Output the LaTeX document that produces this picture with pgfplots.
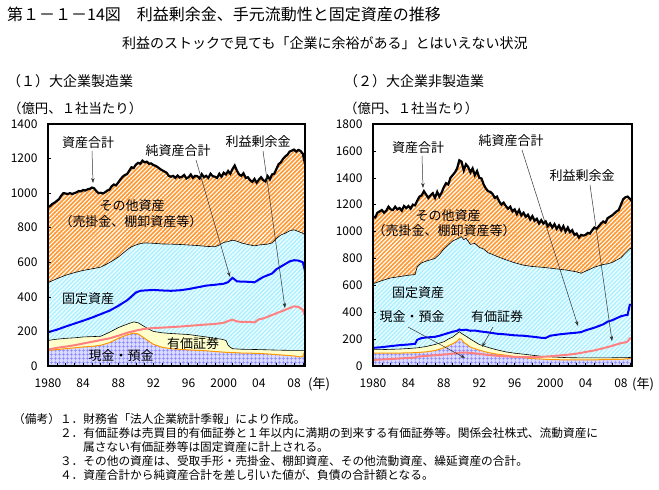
\documentclass[border=0pt]{standalone}
\usepackage{fontspec}
\setmainfont{Noto Sans CJK JP}
\usepackage{pgfplots}
\pgfplotsset{compat=1.18}
\usepackage{pgfplotstable}
\usetikzlibrary{patterns,patterns.meta,arrows.meta}

\definecolor{orng}{RGB}{255,153,51}
\definecolor{cyanline}{RGB}{170,240,255}
\definecolor{cyanfill}{RGB}{236,252,255}
\definecolor{yel}{RGB}{255,255,204}
\definecolor{purfill}{RGB}{218,218,255}
\definecolor{purline}{RGB}{130,130,255}
\definecolor{netblue}{RGB}{0,0,255}
\definecolor{pinkl}{RGB}{255,128,128}
\definecolor{cashline}{RGB}{255,153,0}

\pgfplotsset{
 chartbase/.style={
  scale only axis, anchor=south west,
  xmin=1980, xmax=2009.25, ymin=0,
  axis on top,
  axis line style={line width=1.2pt},
  tick pos=left, tick align=inside,
  major tick length=3pt, minor tick length=3pt,
  xtick={1980,1984,...,2008},
  xticklabels={1980,84,88,92,96,2000,04,08},
  minor xtick={1981,1982,...,2009},
  tick style={black, line width=0.5pt},
  /pgf/number format/assume math mode=true,
  /pgf/number format/1000 sep={},
  ticklabel style={font=\fontsize{12}{12}\selectfont},
  xticklabel style={yshift=-9pt},
  yticklabel style={xshift=-7pt},
 },
 otherarea/.style={draw=none, fill=orng, postaction={pattern={Lines[angle=45,distance=3pt,line width=1.1pt]}, pattern color=white}},
 fixedarea/.style={draw=none, fill=cyanfill, postaction={pattern={Lines[angle=45,distance=3pt,line width=1.3pt]}, pattern color=cyanline}},
 secarea/.style={draw=none, fill=yel},
 casharea/.style={draw=none, fill=purfill, postaction={pattern={Hatch[angle=0,distance=4pt,line width=0.7pt]}, pattern color=purline}},
 thinblack/.style={black, line width=0.6pt, no marks},
 cashl/.style={cashline, line width=1pt, no marks},
 netl/.style={netblue, line width=2pt, no marks},
 retl/.style={pinkl, line width=2pt, no marks},
 totl/.style={black, line width=2.2pt, no marks},
}

% ---------- Left: large manufacturing ----------
\pgfplotstableread{
x y
1980 920
1980.25 925
1980.5 938
1980.75 945
1981 955
1981.25 965
1981.5 985
1981.75 1000
1982 998
1982.25 995
1982.5 1000
1982.75 995
1983 1000
1983.25 1005
1983.5 1012
1983.75 1010
1984 1018
1984.25 1015
1984.5 1022
1984.75 1025
1985 1032
1985.25 1028
1985.5 1012
1985.75 1000
1986 1002
1986.25 998
1986.5 1005
1986.75 1015
1987 1020
1987.25 1040
1987.5 1050
1987.75 1045
1988 1062
1988.25 1080
1988.5 1095
1988.75 1105
1989 1110
1989.25 1130
1989.5 1150
1989.75 1145
1990 1165
1990.25 1175
1990.5 1170
1990.75 1188
1991 1178
1991.25 1182
1991.5 1170
1991.75 1172
1992 1162
1992.25 1158
1992.5 1150
1992.75 1140
1993 1132
1993.25 1125
1993.5 1118
1993.75 1100
1994 1095
1994.25 1100
1994.5 1088
1994.75 1102
1995 1090
1995.25 1095
1995.5 1105
1995.75 1085
1996 1092
1996.25 1108
1996.5 1088
1996.75 1100
1997 1098
1997.25 1085
1997.5 1110
1997.75 1092
1998 1100
1998.25 1088
1998.5 1112
1998.75 1098
1999 1095
1999.25 1088
1999.5 1112
1999.75 1095
2000 1118
2000.25 1108
2000.5 1128
2000.75 1112
2001 1140
2001.25 1160
2001.5 1130
2001.75 1108
2002 1100
2002.25 1115
2002.5 1088
2002.75 1092
2003 1075
2003.25 1065
2003.5 1082
2003.75 1060
2004 1078
2004.25 1092
2004.5 1075
2004.75 1068
2005 1098
2005.25 1080
2005.5 1108
2005.75 1112
2006 1140
2006.25 1168
2006.5 1178
2006.75 1198
2007 1212
2007.25 1222
2007.5 1240
2007.75 1246
2008 1252
2008.25 1240
2008.5 1250
2008.75 1244
2009 1228
2009.25 1170
}\LT
\pgfplotstableread{
x y
1980 482
1981 505
1982 525
1983 540
1984 553
1985 562
1986 572
1987 598
1988 630
1989 672
1989.5 690
1990 700
1990.5 708
1991 712
1992 710
1993 706
1994 705
1995 703
1996 700
1997 697
1998 692
1999 690
1999.5 700
2000 715
2000.5 720
2001 728
2001.5 722
2002 712
2003 700
2003.5 695
2004 700
2005 705
2005.5 712
2006 738
2006.5 758
2007 768
2007.5 782
2008 788
2008.5 778
2009 768
2009.25 758
}\LF
\pgfplotstableread{
x y
1980 148
1981 155
1982 160
1983 163
1984 168
1985 170
1986 172
1987 195
1988 222
1989 242
1989.75 255
1990.25 250
1990.75 235
1991.5 212
1992 200
1993 192
1994 188
1995 185
1996 182
1997 175
1998 168
1999 160
1999.75 155
2000.25 148
2000.5 120
2000.75 108
2001 100
2002 97
2004 95
2006 92
2008 90
2009.25 90
}\LS
\pgfplotstableread{
x y
1980 90
1981 95
1982 100
1983 105
1984 110
1985 113
1986 120
1987 135
1988 160
1989 180
1989.75 190
1990.25 186
1991 160
1992 125
1993 108
1994 100
1996 93
1998 88
2000 80
2002 75
2004 73
2006 66
2008 58
2008.75 52
2009 55
2009.25 90
}\LC
\pgfplotstableread{
x y
1980 195
1981 210
1982 228
1983 245
1984 262
1985 280
1986 300
1987 320
1988 348
1989 380
1989.5 402
1990 425
1990.5 435
1991 437
1992 440
1993 437
1994 435
1995 438
1996 445
1997 455
1998 465
1999 470
2000 476
2000.5 485
2001 510
2001.25 500
2001.5 490
2002 488
2003 487
2003.5 484
2004 500
2004.5 515
2005 525
2005.5 535
2006 560
2006.5 575
2007 590
2007.5 605
2008 612
2008.5 610
2009 600
2009.25 550
}\LN
\pgfplotstableread{
x y
1980 95
1981 105
1982 112
1983 120
1984 130
1985 140
1986 150
1987 160
1988 175
1989 192
1990 205
1991 215
1992 220
1993 222
1994 225
1995 228
1996 232
1997 236
1998 240
1999 243
2000 250
2000.5 260
2001 268
2001.5 258
2002 255
2003 255
2003.5 252
2004 270
2004.5 275
2005 285
2005.5 295
2006 305
2006.5 315
2007 325
2007.5 335
2008 345
2008.5 342
2009 325
2009.25 290
}\LR

% ---------- Right: large non-manufacturing ----------
\pgfplotstableread{
x y
1980 1110
1980.25 1105
1980.5 1140
1980.75 1150
1981 1160
1981.25 1140
1981.5 1155
1981.75 1185
1982 1165
1982.25 1160
1982.5 1185
1982.75 1165
1983 1175
1983.25 1155
1983.5 1190
1983.75 1175
1984 1190
1984.25 1170
1984.5 1200
1984.75 1195
1985 1230
1985.25 1260
1985.5 1270
1985.75 1300
1986 1275
1986.25 1250
1986.5 1270
1986.75 1285
1987 1250
1987.25 1295
1987.5 1260
1987.75 1290
1988 1330
1988.25 1360
1988.5 1350
1988.75 1400
1989 1420
1989.25 1440
1989.5 1470
1989.75 1530
1990 1520
1990.25 1455
1990.5 1500
1990.75 1480
1991 1440
1991.25 1470
1991.5 1420
1991.75 1450
1992 1400
1992.25 1395
1992.5 1350
1992.75 1320
1993 1300
1993.25 1295
1993.5 1280
1993.75 1250
1994 1260
1994.25 1225
1994.5 1200
1994.75 1215
1995 1190
1995.25 1170
1995.5 1185
1995.75 1150
1996 1165
1996.25 1130
1996.5 1160
1996.75 1120
1997 1140
1997.25 1110
1997.5 1125
1997.75 1090
1998 1115
1998.25 1080
1998.5 1095
1998.75 1060
1999 1085
1999.25 1060
1999.5 1075
1999.75 1040
2000 1060
2000.25 1030
2000.5 1055
2000.75 1020
2001 1045
2001.25 1010
2001.5 1040
2001.75 1000
2002 1030
2002.25 995
2002.5 1010
2002.75 975
2003 985
2003.25 955
2003.5 975
2003.75 970
2004 975
2004.25 990
2004.5 985
2004.75 1010
2005 1030
2005.25 1020
2005.5 1040
2005.75 1060
2006 1075
2006.25 1065
2006.5 1100
2006.75 1110
2007 1120
2007.25 1135
2007.5 1150
2007.75 1160
2008 1200
2008.25 1240
2008.5 1255
2008.75 1260
2009 1245
2009.25 1225
}\RT
\pgfplotstableread{
x y
1980 612
1981 635
1982 655
1983 665
1984 675
1984.75 680
1985 740
1985.5 768
1986 780
1986.5 790
1987 800
1987.5 830
1988 870
1988.5 900
1989 930
1989.5 945
1990 962
1990.25 940
1990.5 950
1991 905
1991.5 912
1992 882
1992.5 870
1993 842
1993.5 830
1994 815
1995 790
1996 768
1997 750
1998 740
1999 735
2000 728
2001 720
2002 712
2003 700
2003.5 690
2004 705
2005 735
2006 755
2006.5 760
2007 770
2008 805
2008.5 840
2009 872
2009.25 880
}\RF
\pgfplotstableread{
x y
1980 122
1981 122
1982 124
1983 126
1984 130
1985 135
1986 145
1987 160
1988 180
1988.5 200
1989 215
1989.5 242
1989.75 255
1990 242
1990.5 222
1991 200
1991.5 180
1992 160
1993 138
1994 120
1995 105
1996 95
1997 88
1998 80
1999 72
2000 68
2001 65
2002 62
2004 60
2006 60
2008 62
2009 63
2009.25 65
}\RS
\pgfplotstableread{
x y
1980 96
1982 96
1984 97
1985 100
1986 105
1987 115
1988 135
1988.5 150
1989 165
1989.5 185
1989.75 203
1990 198
1990.25 175
1990.5 165
1991 140
1992 118
1993 100
1994 88
1995 80
1996 70
1997 62
1998 55
1999 52
2000 48
2002 45
2004 45
2006 47
2008 50
2009 55
2009.25 58
}\RC
\pgfplotstableread{
x y
1980 135
1981 140
1982 148
1983 155
1984 160
1984.75 165
1985 195
1985.5 208
1986 212
1987 217
1987.5 225
1988 235
1989 255
1989.5 262
1989.75 272
1990 266
1990.5 270
1991 262
1991.5 264
1992 258
1993 250
1994 240
1995 235
1996 228
1997 225
1998 218
1999 210
1999.5 208
2000 225
2001 235
2002 242
2003 248
2003.5 252
2004 265
2005 285
2006 310
2006.5 330
2007 340
2007.5 355
2008 370
2008.5 378
2008.75 380
2009 455
2009.25 457
}\RN
\pgfplotstableread{
x y
1980 45
1982 52
1984 60
1984.75 62
1985 70
1986 75
1987 80
1988 85
1989 92
1990 100
1991 98
1992 90
1993 82
1994 76
1995 72
1996 68
1997 66
1998 65
1999 68
2000 72
2001 78
2002 84
2003 92
2004 104
2005 116
2006 132
2007 150
2008 170
2008.5 176
2008.75 182
2009 205
2009.25 208
}\RR

\begin{document}
\begin{tikzpicture}[x=1pt,y=1pt]
\useasboundingbox (0,0) rectangle (659,490);

% Left axis
\begin{axis}[chartbase, at={(48pt,124pt)}, width=257pt, height=242pt,
  ymax=1400, ytick={0,200,...,1400}]
\addplot[otherarea] table {\LT} \closedcycle;
\addplot[fixedarea] table {\LF} \closedcycle;
\addplot[secarea] table {\LS} \closedcycle;
\addplot[casharea] table {\LC} \closedcycle;
\addplot[thinblack] table {\LF};
\addplot[thinblack] table {\LS};
\addplot[cashl] table {\LC};
\addplot[retl] table {\LR};
\addplot[netl] table {\LN};
\addplot[totl] table {\LT};
\end{axis}

% Right axis
\begin{axis}[chartbase, at={(373pt,124pt)}, width=259pt, height=242pt,
  ymax=1800, ytick={0,200,...,1800}]
\addplot[otherarea] table {\RT} \closedcycle;
\addplot[fixedarea] table {\RF} \closedcycle;
\addplot[secarea] table {\RS} \closedcycle;
\addplot[casharea] table {\RC} \closedcycle;
\addplot[thinblack] table {\RF};
\addplot[thinblack] table {\RS};
\addplot[cashl] table {\RC};
\addplot[retl] table {\RR};
\addplot[netl] table {\RN};
\addplot[totl] table {\RT};
\end{axis}

% Titles
\node[anchor=west, inner sep=0, font=\fontsize{16}{16}\selectfont] at (7,476) {第１－１－14図　利益剰余金、手元流動性と固定資産の推移};
\node[anchor=west, inner sep=0, font=\fontsize{14}{14}\selectfont] at (122,447) {利益のストックで見ても「企業に余裕がある」とはいえない状況};
\node[anchor=west, inner sep=0, font=\fontsize{14}{14}\selectfont] at (7,409) {（１）大企業製造業};
\node[anchor=west, inner sep=0, font=\fontsize{14}{14}\selectfont] at (344,409) {（２）大企業非製造業};
\node[anchor=west, inner sep=0, font=\fontsize{13.4}{14}\selectfont] at (8,382) {（億円、１社当たり）};
\node[anchor=west, inner sep=0, font=\fontsize{13.4}{14}\selectfont] at (344,382) {（億円、１社当たり）};
\node[inner sep=0, font=\fontsize{13}{13}\selectfont] at (319,106) {(年)};
\node[inner sep=0, font=\fontsize{13}{13}\selectfont] at (643,106) {(年)};

% Left chart labels
\begin{scope}[every node/.style={inner sep=0, font=\fontsize{13}{13}\selectfont}]
\node at (88,347) {資産合計};
\node at (178,339) {純資産合計};
\node at (258,348) {利益剰余金};
\node at (132,284) {その他資産};
\node at (131,268) {（売掛金、棚卸資産等）};
\node at (88,191) {固定資産};
\node at (193,146) {有価証券};
\node at (121,134) {現金・預金};
% Right chart labels
\node at (418,342) {資産合計};
\node at (511,349) {純資産合計};
\node at (582,314) {利益剰余金};
\node at (448,274) {その他資産};
\node at (444,259) {（売掛金、棚卸資産等）};
\node at (418,197) {固定資産};
\node at (412,173) {現金・預金};
\node at (497,173) {有価証券};
\end{scope}

\begin{scope}[-{Stealth[length=5pt,width=3.5pt]}, line width=0.5pt, black!80]
\draw (92,339) -- (93,307);
\draw (196,330) -- (230,213);
\draw (263,339) -- (285,182);
\draw (422,334) -- (423,302);
\draw (522,340) -- (578,164);
\draw (590,305) -- (612,149);
\draw (408,163) -- (465,132);
\draw (493,163) -- (482,143);
\end{scope}

% Notes
\begin{scope}[every node/.style={anchor=west, inner sep=0, font=\fontsize{11.7}{12}\selectfont}]
\node at (13,71) {（備考）１．財務省「法人企業統計季報」により作成。};
\node at (59.8,57) {２．有価証券は売買目的有価証券と１年以内に満期の到来する有価証券等。関係会社株式、流動資産に};
\node at (83,43) {属さない有価証券等は固定資産に計上される。};
\node at (59.8,29) {３．その他の資産は、受取手形・売掛金、棚卸資産、その他流動資産、繰延資産の合計。};
\node at (59.8,15) {４．資産合計から純資産合計を差し引いた値が、負債の合計額となる。};
\end{scope}
\end{tikzpicture}
\end{document}
